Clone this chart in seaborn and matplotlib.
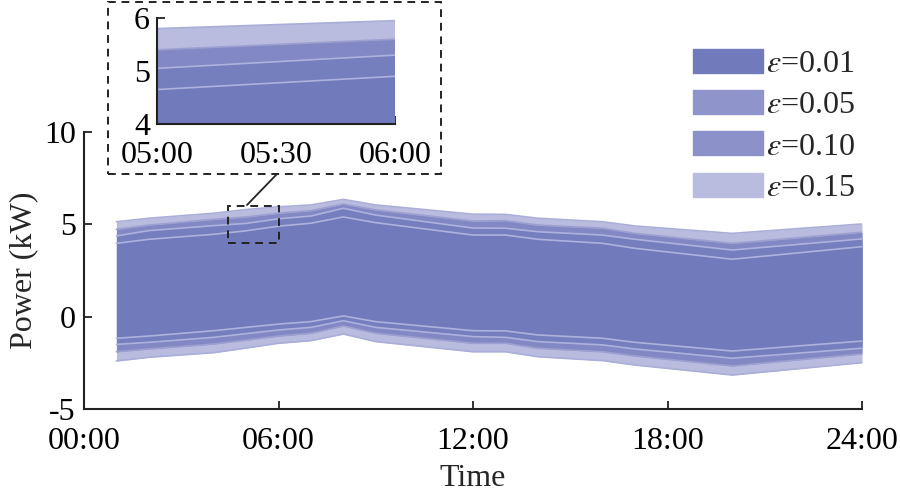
import pandas as pd
import matplotlib
matplotlib.use("Agg")
import matplotlib.pyplot as plt
import matplotlib.patches as mpatches
import seaborn as sns

# hours where the bands change slope
hours = [1, 2, 4, 5, 6, 7, 8, 9, 12, 13, 14, 16, 17, 20, 24]

# upper limits of each confidence band (kW)
up15 = [5.14, 5.33, 5.60, 5.80, 5.95, 6.05, 6.35, 6.05, 5.55, 5.54, 5.33, 5.14, 4.91, 4.51, 5.02]
up10 = [4.73, 4.96, 5.27, 5.40, 5.60, 5.74, 6.10, 5.78, 5.18, 5.20, 4.96, 4.79, 4.51, 3.97, 4.57]
up05 = [4.37, 4.66, 4.93, 5.05, 5.30, 5.45, 5.87, 5.50, 4.80, 4.79, 4.60, 4.42, 4.19, 3.61, 4.21]
up01 = [3.97, 4.19, 4.46, 4.65, 4.90, 5.06, 5.40, 5.09, 4.42, 4.42, 4.19, 3.97, 3.70, 3.11, 3.79]

# lower limits
lo01 = [-1.17, -1.05, -0.76, -0.58, -0.40, -0.27, 0.04, -0.27, -0.76, -0.77, -0.99, -1.17, -1.39, -1.86, -1.32]
lo05 = [-1.50, -1.39, -1.12, -0.92, -0.72, -0.58, -0.22, -0.58, -1.08, -1.12, -1.35, -1.53, -1.75, -2.25, -1.71]
lo10 = [-1.90, -1.75, -1.48, -1.27, -1.05, -0.90, -0.50, -0.90, -1.44, -1.44, -1.71, -1.90, -2.13, -2.67, -2.02]
lo15 = [-2.40, -2.20, -1.95, -1.70, -1.44, -1.30, -0.94, -1.35, -1.90, -1.90, -2.17, -2.38, -2.62, -3.16, -2.49]

eps_labels = ["0.01", "0.05", "0.10", "0.15"]
x_ticks = [0, 6, 12, 18, 24]
x_ticklabels = ["00:00", "06:00", "12:00", "18:00", "24:00"]
y_ticks = [-5, 0, 5, 10]
inset_xticks = [5, 5.5, 6]
inset_xticklabels = ["05:00", "05:30", "06:00"]
inset_yticks = [4, 5, 6]

# fill colours as they appear in the plot, and legend patch colours
fill_colors = {"0.01": "#717bbb", "0.05": "#767fbe", "0.10": "#8188c3", "0.15": "#b9bcdf"}
legend_colors = {"0.01": "#717bbb", "0.05": "#8f95cb", "0.10": "#8c92c9", "0.15": "#b9bcdf"}
edge_colors = {"0.15": "#aaaed8", "0.10": "#9ba0d0", "0.05": "#adb2dd", "0.01": "#adb2dd"}

bands = {"0.15": (lo15, up15), "0.10": (lo10, up10), "0.05": (lo05, up05), "0.01": (lo01, up01)}

# long table of band edges for seaborn
rows = []
for eps, (lo, up) in bands.items():
    for h, l, u in zip(hours, lo, up):
        rows.append({"hour": h, "value": u, "eps": eps, "edge": eps + "_up"})
        rows.append({"hour": h, "value": l, "eps": eps, "edge": eps + "_lo"})
df = pd.DataFrame(rows)

sns.set_style("ticks")
plt.rcParams["font.family"] = ["Liberation Serif", "DejaVu Serif"]
plt.rcParams["mathtext.fontset"] = "stix"
plt.rcParams["axes.unicode_minus"] = False
FS = 23


def draw_bands(ax):
    for eps in ["0.15", "0.10", "0.05", "0.01"]:
        lo, up = bands[eps]
        ax.fill_between(hours, lo, up, color=fill_colors[eps], lw=0)
    sns.lineplot(data=df, x="hour", y="value", hue="eps", units="edge", estimator=None,
                 palette=edge_colors, lw=1.2, ax=ax, legend=False)
    ax.set_xlabel("")
    ax.set_ylabel("")


def style_axis(ax):
    sns.despine(ax=ax)
    for s in ["left", "bottom"]:
        ax.spines[s].set_linewidth(1.5)
        ax.spines[s].set_color("#222222")
    ax.tick_params(direction="in", length=6, width=1.3, colors="#222222",
                   labelsize=FS, labelcolor="black")


fig = plt.figure(figsize=(9, 5.01), dpi=100)
ax = fig.add_axes([84 / 900, 1 - 409 / 501, 778 / 900, 277 / 501])
draw_bands(ax)
ax.set_xlim(0, 24)
ax.set_ylim(-5, 10)
ax.set_xticks(x_ticks)
ax.set_xticklabels(x_ticklabels)
ax.set_yticks(y_ticks)
ax.set_yticklabels([str(v) for v in y_ticks])
style_axis(ax)
ax.tick_params(axis="x", pad=13)
ax.tick_params(axis="y", pad=6)
ax.set_xlabel("Time", fontsize=FS, labelpad=6)
ax.set_ylabel("Power (kW)", fontsize=FS, labelpad=4)

# zoom rectangle on main axes
ax.add_patch(mpatches.Rectangle((4.45, 4.0), 1.55, 2.0, fill=False, ec="#222222",
                                lw=1.4, ls=(0, (4, 3)), zorder=5))

# inset
axin = fig.add_axes([157 / 900, 1 - 124 / 501, 238 / 900, 106 / 501])
draw_bands(axin)
axin.set_xlim(5, 6)
axin.set_ylim(4, 6)
axin.set_xticks(inset_xticks)
axin.set_xticklabels(inset_xticklabels)
axin.set_yticks(inset_yticks)
axin.set_yticklabels([str(v) for v in inset_yticks])
style_axis(axin)
axin.tick_params(axis="x", pad=12)
axin.tick_params(axis="y", pad=5)

# dashed frame around inset and connector line
fig.patches.append(mpatches.Rectangle((108 / 900, 1 - 174 / 501), 333 / 900, 172 / 501,
                                      transform=fig.transFigure, fill=False, ec="#222222",
                                      lw=1.4, ls=(0, (4, 3))))
fig.add_artist(plt.Line2D([247 / 900, 277 / 900], [1 - 205 / 501, 1 - 174 / 501],
                          transform=fig.transFigure, color="#222222", lw=1.3))

# legend
handles = [mpatches.Patch(color=legend_colors[e], label=r"$\varepsilon$=" + e) for e in eps_labels]
fig.legend(handles=handles, loc="upper right", bbox_to_anchor=(868 / 900, 1 - 36 / 501),
           frameon=False, fontsize=FS, handlelength=2.2, handleheight=0.78,
           handletextpad=0.1, labelspacing=0.35, borderaxespad=0)

fig.savefig("out.png", dpi=100)
